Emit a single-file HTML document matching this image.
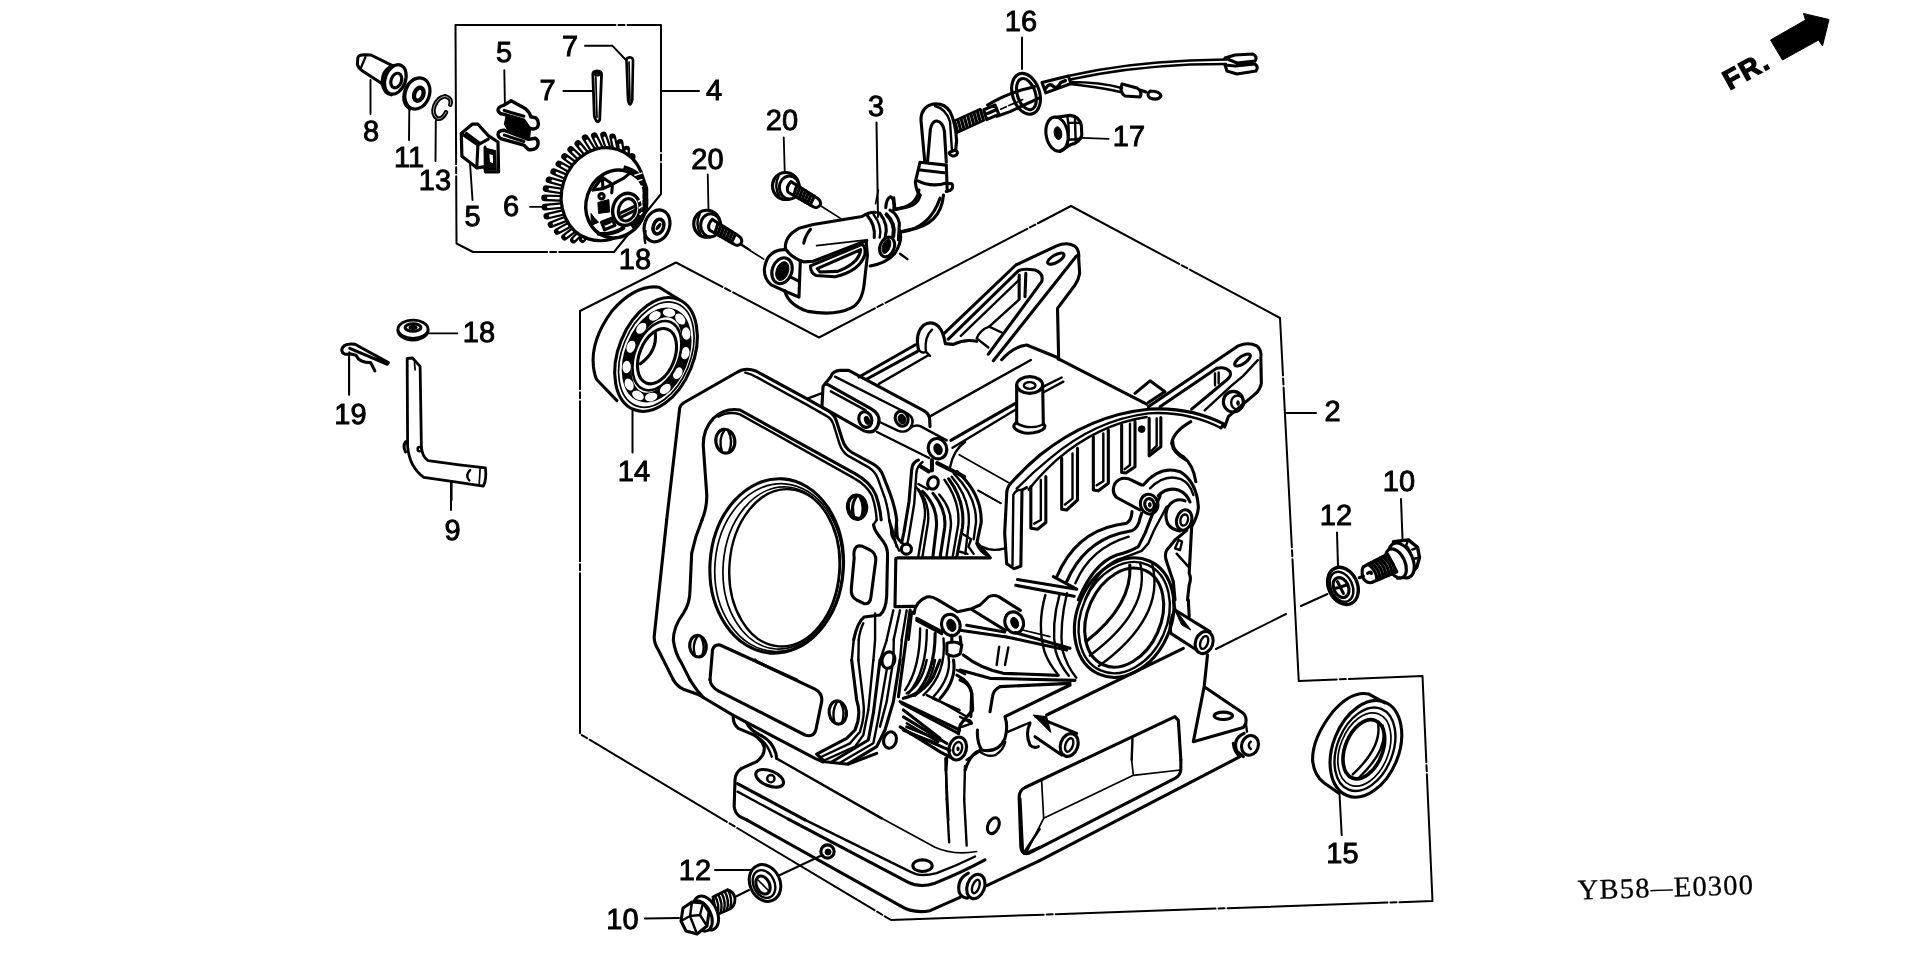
<!DOCTYPE html>
<html><head><meta charset="utf-8"><title>YB58-E0300</title>
<style>
html,body{margin:0;padding:0;background:#fff;}
body{width:1920px;height:959px;overflow:hidden;}
svg{display:block;will-change:transform;}
text{text-rendering:geometricPrecision;}
.l{fill:none;stroke:#000;stroke-width:2.4;stroke-linecap:round;stroke-linejoin:round;vector-effect:non-scaling-stroke;}
.t{fill:none;stroke:#000;stroke-width:1.7;stroke-linecap:round;stroke-linejoin:round;vector-effect:non-scaling-stroke;}
.h{fill:none;stroke:#000;stroke-width:3.1;stroke-linecap:round;stroke-linejoin:round;vector-effect:non-scaling-stroke;}
.w{fill:#fff;stroke:#000;stroke-width:2;stroke-linecap:round;stroke-linejoin:round;vector-effect:non-scaling-stroke;}
.wt{fill:#fff;stroke:#000;stroke-width:1.3;stroke-linecap:round;stroke-linejoin:round;vector-effect:non-scaling-stroke;}
.k{fill:#000;stroke:#000;stroke-width:1;stroke-linejoin:round;vector-effect:non-scaling-stroke;}
.n{font-family:"Liberation Sans",sans-serif;font-size:29px;fill:#000;stroke:#000;stroke-width:0.9;text-anchor:middle;}
</style></head><body>
<svg width="1920" height="959" viewBox="0 0 1920 959">
<rect width="1920" height="959" fill="#fff"/>
<g class="t" style="stroke-width:2" stroke-dasharray="160 3 6 3">
<path d="M580,311 L676,262.5 L819,337.5 L1071,206 L1280,318 L1298.75,681 L1422.5,676 L1432.5,901 L891,920 L580,734 Z"/>
<path d="M455.5,25 L661,25 L661,194 L614,252 L473,252 L456.5,243.5 Z"/>
</g>
<g class="t" style="stroke-width:2">
<path d="M661,91 L699,91"/>
<path d="M1285,413 L1316,413"/>
<path d="M1401,499 L1402.5,539"/>
<path d="M1337,532.5 L1338,566"/>
<path d="M1339.5,794 L1341.7,835"/>
<path d="M715,870 L751,870"/>
<path d="M645,918.5 L679,918"/>
<path d="M451,482.5 L451,510"/>
<path d="M632.5,410 L632.5,452.5"/>
<path d="M349,357 L349,394"/>
<path d="M1022,37.5 L1022,69"/>
<path d="M1327.5,594 L1301,606 M1286,614 L1216,649"/>
<path d="M780,875 L822.5,855 M736,896.5 L749,890"/>
</g>
<path class="t" style="stroke-width:2" d="M876.5,122.5 L878,217"/>

<!-- tile origin 640,360 scale 1/6 -->
<g transform="translate(640,360) scale(0.16667)">
<!-- flange outer -->
<path class="h" d="M160,959 L238,290 Q242,268 265,255 L580,75 Q632,42 695,66 L1005,235 L1130,305 Q1165,325 1177,362 L1215,480 Q1230,530 1272,555 L1400,625 Q1442,650 1457,690 L1500,800 Q1530,880 1540,959"/>
<path class="l" d="M632,76 Q670,85 700,103 L1000,268 L1118,335 Q1150,352 1161,387 L1196,500 Q1212,552 1252,577 L1375,646 Q1412,670 1427,712 L1470,830 Q1490,900 1495,959"/>
<!-- inner gasket outline -->
<path class="h" d="M372,959 Q405,880 400,800 L380,520 Q375,420 440,350 Q510,285 600,300 L1290,682 Q1385,735 1415,810 Q1440,880 1447,959"/>
<path class="l" d="M470,340 Q530,305 600,326 L1278,706 Q1362,752 1392,815 Q1415,880 1420,959"/>
<!-- bolt holes -->
<ellipse class="h" cx="512" cy="487" rx="57" ry="72" transform="rotate(-8 512 487)"/>
<path class="l" d="M505,425 Q470,470 490,545 M530,428 Q560,480 535,548"/>
<ellipse class="h" cx="1300" cy="885" rx="55" ry="72" transform="rotate(-8 1300 885)"/>
<path class="l" d="M1295,822 Q1260,870 1280,945 M1320,826 Q1350,880 1325,948"/>
</g>

<!-- tile origin 800,360 scale 1/6 -->
<g transform="translate(800,360) scale(0.16667)">
<!-- lug 1 -->
<path class="h" d="M132,275 L138,160 Q145,138 168,148 L425,292 Q492,330 468,392 Q445,448 385,425 L132,282"/>
<path class="l" d="M185,188 L395,302"/>
<ellipse class="h" cx="392" cy="357" rx="38" ry="48" transform="rotate(-20 392 357)"/>
<ellipse class="k" cx="402" cy="362" rx="15" ry="26" transform="rotate(-20 402 362)"/>
<!-- lug 2 -->
<path class="h" d="M150,142 L185,100 Q195,65 240,62 L292,62 L745,305 Q778,325 778,360 L780,400"/>
<path class="l" d="M210,100 L640,318 Q692,347 668,397 Q645,442 590,425 L478,372"/>
<ellipse class="h" cx="610" cy="352" rx="38" ry="46" transform="rotate(-20 610 352)"/>
<ellipse class="k" cx="612" cy="355" rx="22" ry="30" transform="rotate(-20 612 355)"/>
<path class="l" d="M660,408 Q690,385 722,397 L880,482"/>
<path class="l" d="M462,432 L775,588"/>
<path class="l" d="M45,232 L128,200"/>
<!-- boss 3 -->
<ellipse class="h" cx="825" cy="532" rx="55" ry="62" transform="rotate(-20 825 532)"/>
<ellipse class="k" cx="828" cy="535" rx="24" ry="34" transform="rotate(-20 828 535)"/>
<!-- rods -->
<!-- block top face -->
<path class="l" d="M785,335 L1385,0"/>
<path class="h" d="M905,482 L1290,262"/>
<path class="l" d="M915,527 L1295,297"/>
<path class="l" d="M990,492 Q920,540 900,645"/>
<path class="t" d="M955,568 L1250,735 M1070,785 L1205,860"/>
<!-- post -->
<ellipse class="h" cx="1378" cy="150" rx="78" ry="50"/>
<ellipse class="l" cx="1378" cy="153" rx="35" ry="20"/>
<path class="h" d="M1300,152 L1300,378 M1456,152 L1460,385"/>
<path class="h" d="M1300,375 Q1272,390 1290,412 Q1330,447 1400,437 Q1470,425 1470,395 L1460,382"/>
<path class="l" d="M1300,380 Q1378,422 1460,387"/>
<path class="l" d="M1460,160 L1570,105 M1465,192 L1580,130"/>
<!-- fin arcs -->
</g>

<!-- tile origin 860,200 scale 1/6 : left mount arm -->
<g transform="translate(860,200) scale(0.16667)">
<path class="h" d="M505,800 L935,390 L1180,275 Q1240,250 1285,275 Q1318,298 1312,350 L1318,440 Q1312,480 1290,510 L1185,650 L1192,955"/>
<path class="h" d="M1300,335 L800,965"/>
<path class="h" d="M530,835 L950,425 Q975,410 1050,420 Q1105,440 1090,490 L770,925"/>
<path class="l" d="M605,815 L955,478"/>
<path class="h" d="M955,450 L955,592 M995,440 L990,580"/>
<path class="l" d="M955,597 L775,760"/>
<path class="l" d="M775,760 Q720,780 700,830 L770,885 M775,760 L850,795"/>
<ellipse class="h" cx="1175" cy="352" rx="55" ry="22" transform="rotate(-30 1175 352)"/>
<!-- hook -->
<path class="h" d="M350,895 Q330,800 380,752 Q430,720 472,760 Q500,790 512,862 L560,866 Q630,832 700,848"/>
<path class="l" d="M395,910 Q385,820 432,778 M350,895 Q370,925 395,910 L420,935"/>
<path class="h" d="M850,959 Q920,880 1000,870 L1192,948"/>
</g>
<path class="h" d="M859,377 L915,345 M866,379.5 L917.5,351.3"/>
<path class="l" d="M878.8,383.9 L928.8,355"/>

<!-- tile origin 1040,300 scale 1/6 : right mount arm -->
<g transform="translate(1040,300) scale(0.16667)">
<path class="h" d="M108,352 L640,625"/>
<path class="h" d="M570,560 L660,485 L750,550 L650,615"/>
<path class="h" d="M650,640 L1190,275 Q1250,250 1300,275 Q1332,300 1325,350 L1328,500 Q1320,540 1290,565 L1130,700 L1108,762"/>
<path class="l" d="M1307,361 L1219,455 L1144,518 L988,662"/>
<path class="h" d="M720,640 L1060,410 Q1110,398 1140,430 Q1152,452 1120,480 L910,655"/>
<path class="l" d="M1050,440 L1050,512 M1072,435 L1072,500"/>
<ellipse class="h" cx="1215" cy="360" rx="55" ry="22" transform="rotate(-35 1215 360)"/>
<ellipse class="h" cx="1160" cy="610" rx="60" ry="62"/>
<ellipse class="l" cx="1185" cy="615" rx="38" ry="42"/>
<ellipse class="k" cx="1188" cy="618" rx="8" ry="14"/>
<!-- arcs -->
<path class="h" d="M-175,1100 Q-90,1005 0,930 Q300,690 650,655 Q900,640 1105,745 L1085,767"/>
<path class="l" d="M-140,1132 Q-40,1030 60,950 Q330,720 650,680 Q880,665 1085,767"/>
<path class="l" d="M-68,1138 Q0,1050 100,959 Q350,745 640,702"/>
<!-- fins -->
<circle class="k" cx="610" cy="775" r="20"/>
<path class="h" d="M905,730 Q800,790 790,860 Q800,920 875,959"/>
</g>

<!-- tile origin 800,480 scale 1/6 -->
<g transform="translate(800,480) scale(0.16667)">
<!-- bore right arcs -->
<!-- bolt hole -->
<ellipse class="h" cx="345" cy="160" rx="55" ry="70" transform="rotate(-8 345 160)"/>
<path class="l" d="M340,100 Q305,150 325,222 M368,105 Q400,160 372,225"/>
<!-- slot -->
<path class="h" d="M340,400 Q318,420 325,470 L308,650 Q303,700 340,720 L385,742 Q422,747 426,700 L455,480 Q456,440 420,420 L375,398 Q355,392 340,400 Z"/>
<!-- flange edge continuing -->
<path class="h" d="M441,268 Q445,300 470,330 L500,370 Q530,410 525,470 L520,700 Q515,780 480,810 L385,822 Q345,850 322,959"/>
<path class="l" d="M535,240 L555,300 L580,400 M580,240 L585,340 Q600,380 625,385 M460,240 L441,268"/>
<path class="l" d="M380,860 Q360,900 352,959"/>
<!-- flat face -->
<path class="h" d="M575,470 L570,760 L690,758"/>
<path class="h" d="M585,467 L1142,467"/>
<!-- shroud left bar -->
<path class="l" d="M1090,400 Q1150,432 1230,410"/>
<path class="t" d="M1068,62 L1205,140"/>
<!-- fin slots -->
<!-- bosses -->
<path class="h" d="M685,800 Q690,730 760,702 Q790,695 820,715 L945,790 L1030,772 L1080,750 L1130,702 Q1160,685 1192,700 L1322,782"/>
<path class="h" d="M700,842 L850,922 M1030,777 L1232,902"/>
<ellipse class="h" cx="905" cy="870" rx="55" ry="65" transform="rotate(-20 905 870)"/>
<ellipse class="k" cx="908" cy="872" rx="26" ry="38" transform="rotate(-20 908 872)"/>
<ellipse class="h" cx="1285" cy="855" rx="55" ry="65" transform="rotate(-20 1285 855)"/>
<ellipse class="k" cx="1288" cy="857" rx="22" ry="34" transform="rotate(-20 1288 857)"/>
<path class="h" d="M960,902 L1240,942 M1000,872 L1228,912"/>
<path class="t" d="M1335,900 L1500,940"/>
<!-- fins bottom-left -->
<path class="l" d="M560,782 L520,959 M600,782 L562,959 M640,782 L610,959 M672,790 L652,959"/>
<!-- pointed -->
<path class="h" d="M1305,597 L1660,655 L1520,580 M1295,632 L1645,697"/>
</g>
<!-- fins bundle: origin 860,460 scale 1/9.59 -->
<g transform="translate(860,460) scale(0.10428)">
<path class="h" d="M352,575 L342,700 Q345,745 400,790"/>
<path class="l" d="M280,575 Q302,680 300,700 Q300,730 330,770 L375,870"/>
<circle class="h" cx="445" cy="855" r="48"/>
<path class="h" d="M560,0 Q500,20 495,100 L470,400 L420,700 L400,790"/>
<path class="l" d="M600,20 Q545,60 540,130 L520,420 L470,720 L455,800"/>
<path class="l" d="M540,260 Q640,400 620,560 L560,920"/>
<path class="l" d="M560,280 Q672,420 652,600 L600,920"/>
<path class="h" d="M600,300 Q752,450 732,650 L700,920"/>
<path class="h" d="M700,320 Q832,480 812,650 L770,920"/>
<path class="l" d="M810,190 Q962,400 942,620 L890,920"/>
<path class="l" d="M760,330 Q890,480 870,650 L830,920"/>
<path class="l" d="M880,160 Q1062,380 1042,620 L1010,900"/>
<path class="h" d="M850,180 Q1012,400 982,650 L930,920"/>
<path class="l" d="M900,130 Q1122,350 1112,600 L1090,760"/>
<path class="h" d="M930,110 Q1172,330 1162,600 L1120,800 Q1150,880 1240,925 L1130,800"/>
<path class="h" d="M580,60 L660,110 M690,0 L690,100 M740,30 L1000,160" style="stroke-width:4"/>
<ellipse class="h" cx="700" cy="220" rx="50" ry="60" transform="rotate(20 700 220)"/>
<path class="l" d="M560,230 L650,280"/>
<path class="l" d="M985,710 L1065,760 L1040,830 L1090,900 M960,880 L1030,900"/>
</g>

<!-- tile origin 1000,440 scale 1/6 -->
<g transform="translate(1000,440) scale(0.16667)">
<path class="h" d="M850,270 L770,232 Q720,220 690,260 Q665,310 700,345 L840,420"/>
<ellipse class="h" cx="895" cy="385" rx="52" ry="60" transform="rotate(-15 895 385)"/>
<ellipse class="h" cx="897" cy="387" rx="28" ry="36" transform="rotate(-15 897 387)"/>
<ellipse class="k" cx="899" cy="389" rx="8" ry="14"/>
<path class="h" d="M860,270 Q960,150 1080,190 Q1180,250 1190,400 Q1190,450 1150,520 L1135,800 Q1150,830 1135,870 L1125,959"/>
<path class="l" d="M900,290 Q990,200 1085,235 Q1140,260 1160,330"/>
<path class="h" d="M950,335 Q1000,280 1070,300 Q1120,320 1140,372"/>
<path class="h" d="M1035,0 L1040,40 Q1060,80 1100,100 Q1160,150 1175,250"/>
<!-- right boss -->
<path class="h" d="M1005,500 Q980,430 1020,385 Q1060,345 1110,365"/>
<ellipse class="h" cx="1105" cy="480" rx="45" ry="62" transform="rotate(15 1105 480)"/>
<ellipse class="l" cx="1105" cy="480" rx="22" ry="34" transform="rotate(15 1105 480)"/>
<path class="h" d="M1005,500 Q1030,540 1080,545"/>
<!-- S band -->
<path class="h" d="M960,335 L905,470 L870,560 L830,640 Q780,670 700,690 Q560,740 470,959"/>
<path class="l" d="M1000,400 L925,540 L890,620 L850,665 Q760,700 700,720 Q590,770 510,959"/>
<path class="h" d="M340,822 Q450,560 700,510 L760,500 Q790,480 792,430"/>
<path class="h" d="M400,850 Q500,620 720,560 L790,545 Q830,530 840,470 L850,440"/>
<path class="l" d="M452,860 Q540,650 772,580"/>
<!-- inner arcs -->
<path class="h" d="M1120,542 L1050,600 L1000,662 Q985,690 1000,730 L1040,850 L1050,959"/>
<path class="l" d="M1072,600 L1050,650 L1080,660 L1092,610 Z M1060,682 L1130,760"/>
<!-- bar + slots -->
<path class="h" d="M62,262 Q38,290 40,330 L28,560 L40,742 L85,772 L125,757 L132,300 L160,285"/>
<path class="l" d="M132,300 Q95,295 80,330 L75,750"/>
</g>

<!-- bore ellipses in source coords -->
<g>
<ellipse class="h" cx="776.7" cy="566" rx="66.7" ry="87.3" transform="rotate(4 776.7 566)"/>
<ellipse class="t" cx="778.7" cy="567.6" rx="63.8" ry="84" transform="rotate(4 778.7 567.6)"/>
<ellipse class="t" cx="781.6" cy="568" rx="58.5" ry="81.2" transform="rotate(4 781.6 568)"/>
<ellipse class="l" cx="784.4" cy="567.8" rx="55" ry="78.8" transform="rotate(4 784.4 567.8)"/>
</g>
<!-- tile origin 640,520 scale 1/6 -->
<g transform="translate(640,520) scale(0.16667)">
<path class="h" d="M160,0 L85,700 Q85,740 110,780 L200,959"/>
<path class="h" d="M372,0 Q330,100 310,200 L300,420 Q300,500 260,560 Q200,640 200,720 Q210,800 250,860 L300,959"/>
<ellipse class="h" cx="348" cy="757" rx="50" ry="65" transform="rotate(-8 348 757)"/>
<path class="l" d="M343,700 Q310,750 330,815 M368,705 Q395,760 372,818"/>
<path class="h" d="M420,959 L435,780 Q445,745 480,750 L940,959"/>
</g>

<!-- tile origin 640,660 scale 1/6 -->
<g transform="translate(640,660) scale(0.16667)">
<path class="h" d="M200,119 Q225,160 260,175 L345,205 L380,225 L560,332 L1050,590 L1100,612"/>
<path class="h" d="M300,119 Q320,150 345,185 L380,225"/>
<path class="h" d="M420,119 Q425,160 470,185 L990,450 Q1040,467 1055,420 L1090,250 Q1097,200 1050,175 L700,10 L690,0"/>
<ellipse class="h" cx="1187" cy="315" rx="52" ry="70" transform="rotate(-8 1187 315)"/>
<path class="l" d="M1180,255 Q1148,310 1168,378 M1205,258 Q1235,315 1210,380"/>
<path class="h" d="M560,335 Q555,380 590,410 L660,440 Q720,460 745,520 Q752,570 700,610 L610,650 Q570,680 570,720 L565,880 Q570,920 600,940 L640,959"/>
<path class="h" d="M640,378 Q660,420 720,450 Q790,480 815,560 L820,590"/>
<path class="l" d="M715,470 Q765,500 790,580"/>
<path class="l" d="M818,590 L1450,950"/>
<path class="h" d="M585,742 L990,959"/>
<path class="l" d="M585,790 L890,955"/>
<ellipse class="h" cx="778" cy="710" rx="88" ry="45" transform="rotate(22 778 710)"/>
<circle class="l" cx="785" cy="712" r="22"/>
<!-- fin bottoms -->
<path class="h" d="M1270,0 L1300,240 Q1330,330 1290,420 L1240,470 L1060,565 L1110,610 L1250,625 L1420,560"/>
<path class="l" d="M1310,0 L1340,250 Q1352,330 1320,430 L1260,500 L1080,585"/>
<path class="l" d="M1400,0 L1370,300 L1340,450 L1290,520 L1110,600"/>
<path class="h" d="M1440,0 L1400,320 L1370,480 L1150,612"/>
<path class="l" d="M1480,60 L1430,350 L1400,500 L1200,617"/>
<path class="h" d="M1560,0 L1520,250 L1470,420 L1420,520 L1250,622"/>
<path class="l" d="M1520,0 L1480,250 L1440,400"/>
<ellipse class="h" cx="1500" cy="480" rx="38" ry="50" transform="rotate(15 1500 480)"/>
<path class="h" d="M1580,230 Q1700,200 1760,100 L1800,0"/>
<path class="l" d="M1600,200 Q1690,150 1720,0 M1640,215 Q1740,170 1770,0"/>
<path class="h" d="M1560,250 L1918,420 M1580,300 L1800,470 M1580,420 L1860,542"/>
<path class="l" d="M1600,380 L1790,492 M1760,232 L1918,300"/>
<path class="l" d="M1832,590 L1850,959"/>
</g>

<!-- ring group origin 1020,520 scale 1/5.327 -->
<g transform="translate(1020,520) scale(0.18771)">
<g transform="rotate(24 555 520)">
<ellipse class="h" cx="555" cy="520" rx="250" ry="330"/>
<ellipse class="l" cx="555" cy="520" rx="228" ry="308"/>
<ellipse class="h" cx="555" cy="520" rx="195" ry="275"/>
</g>
<path class="h" d="M585,240 Q600,450 355,645"/>
<path class="l" d="M640,228 Q700,480 372,722"/>
<path class="l" d="M705,238 Q775,520 420,778"/>
<path class="l" d="M135,400 Q90,560 130,700 Q150,760 200,820"/>
<path class="l" d="M210,400 Q165,560 190,700 Q210,770 260,830"/>
<path class="l" d="M250,390 Q210,560 225,690 Q250,780 300,840"/>
</g>
<!-- tile origin 960,600 scale 1/6 -->
<g transform="translate(960,600) scale(0.16667)">
<path class="h" d="M330,195 L660,290 M280,222 L640,300"/>
<path class="h" d="M20,330 Q120,410 260,440 L590,452 M0,420 L180,470 L690,482 M240,520 L660,500"/>
<path class="l" d="M235,280 L220,390 M290,285 L270,390"/>
<path class="h" d="M240,520 Q200,540 195,580 L180,670 M0,480 Q60,500 70,560 L65,700"/>
<path class="h" d="M660,510 L270,700 Q290,760 270,830 Q230,920 130,900 Q100,850 105,780"/>
<path class="l" d="M290,790 L420,735 M130,900 L40,959 M0,700 L70,740"/>
<path class="h" d="M520,690 L1340,290"/>
<!-- boss C -->
<path class="h" d="M455,700 L700,800 M450,820 L610,930 M420,740 Q390,800 420,870 Q440,892 470,880"/>
<path class="k" d="M440,690 L545,795 L520,700 Z"/>
<ellipse class="h" cx="655" cy="870" rx="52" ry="70" transform="rotate(20 655 870)"/>
<ellipse class="l" cx="655" cy="870" rx="22" ry="42" transform="rotate(20 655 870)"/>
<!-- boss D -->
<path class="h" d="M1290,60 L1500,190 M1265,200 L1420,300 M1290,60 Q1250,130 1265,200"/>
<path class="k" d="M1280,40 L1385,180 L1330,150 Z"/>
<ellipse class="h" cx="1465" cy="255" rx="52" ry="68" transform="rotate(20 1465 255)"/>
<ellipse class="l" cx="1465" cy="255" rx="22" ry="40" transform="rotate(20 1465 255)"/>
<path class="h" d="M1280,0 L1290,60 M1370,0 L1375,100"/>
<!-- foot -->
<path class="h" d="M1485,330 L1465,520 L1400,850 L1700,765 L1715,740 Q1722,700 1700,680 L1465,520"/>
<ellipse class="h" cx="1580" cy="695" rx="55" ry="22"/>
<path class="l" d="M1715,740 L1722,790"/>
<ellipse class="h" cx="1740" cy="872" rx="50" ry="60" transform="rotate(20 1740 872)"/>
<path class="h" d="M1705,800 Q1635,830 1660,905 L1700,940"/>
<path class="l" d="M1745,850 Q1720,870 1745,895"/>
<!-- window -->
<path class="h" d="M740,959 L1290,700 L1310,722 L1325,959"/>
<path class="l" d="M1035,830 L1030,959"/>
</g>

<!-- tile origin 720,799 scale 1/6 -->
<g transform="translate(720,799) scale(0.16667)">
<path class="h" d="M160,125 L1080,640 Q1160,690 1260,670 L1440,590"/>
<path class="h" d="M410,121 L1130,500 Q1200,535 1290,505 Q1450,440 1590,365"/>
<path class="l" d="M510,125 L1150,440 Q1200,470 1300,445 Q1420,400 1530,345"/>
<path class="t" d="M970,116 L1290,290 Q1400,340 1540,315"/>
<circle class="h" cx="645" cy="315" r="40"/>
<circle class="k" cx="648" cy="318" r="18"/>
<ellipse class="h" cx="1215" cy="400" rx="58" ry="35"/>
<ellipse class="h" cx="1535" cy="525" rx="52" ry="75" transform="rotate(20 1535 525)"/>
<ellipse class="l" cx="1535" cy="525" rx="20" ry="42" transform="rotate(20 1535 525)"/>
<path class="h" d="M1490,445 Q1420,480 1435,560 Q1450,592 1485,595"/>
<path class="h" d="M1600,520 L1918,370"/>
<path class="l" d="M1360,0 L1375,260 M1465,0 L1480,280"/>
<ellipse class="h" cx="1640" cy="160" rx="32" ry="50" transform="rotate(25 1640 160)"/>
<path class="h" d="M1800,0 L1815,310 Q1820,332 1840,325 L1918,290"/>
<path class="l" d="M1830,312 L1918,180"/>
</g>

<!-- tile origin 1000,740 scale 1/6 -->
<g transform="translate(1000,740) scale(0.16667)">
<path class="h" d="M500,119 L150,285 Q112,305 115,350 L125,640 Q130,692 172,680 L1050,230 Q1087,210 1085,170 L1085,119"/>
<path class="t" d="M250,250 L262,470 L800,212 L1082,180 M790,119 L800,212 M160,672 L262,470"/>
<path class="h" d="M238,724 L1440,100 Q1405,70 1400,20"/>
</g>

<!-- mid tile origin 820,610 scale 1/5.992 -->
<g transform="translate(820,610) scale(0.16689)">
<path class="l" d="M202,180 L190,300 M232,180 L230,300 M400,180 L360,300 M442,180 L440,300 M490,180 L480,300 M330,20 L330,180 L320,300"/>
<ellipse class="h" cx="410" cy="300" rx="38" ry="50" transform="rotate(15 410 300)"/>
<path class="h" d="M540,0 L470,520 M580,50 L730,130"/>
<path class="l" d="M600,110 Q600,350 510,480 M640,120 Q640,370 530,500 M740,170 Q760,380 620,510 M770,280 Q790,400 680,520"/>
<path class="h" d="M690,140 Q690,380 570,510 M800,300 Q820,420 720,530"/>
<path class="h" d="M760,200 L760,262 Q800,292 840,262 L850,210 Q810,180 760,200 M790,150 L790,195 M840,160 L845,205"/>
<path class="h" d="M490,560 L830,740 M500,640 L760,800 M480,700 L720,850 L780,882"/>
<path class="h" d="M520,700 L720,780 M540,740 L700,800"/>
<path class="l" d="M690,530 L880,640 M640,510 L700,540"/>
<path class="h" d="M820,390 Q900,430 910,500 L915,600 L880,640 Q860,660 840,690 L830,740"/>
<path class="l" d="M870,660 Q900,650 910,680 L850,700 M820,360 L870,385"/>
<ellipse class="h" cx="825" cy="830" rx="52" ry="70" transform="rotate(15 825 830)"/>
<ellipse class="l" cx="825" cy="830" rx="26" ry="40" transform="rotate(15 825 830)"/>
<ellipse class="k" cx="827" cy="832" rx="7" ry="12"/>
<path class="h" d="M760,882 L755,959 M870,959 Q900,860 960,840"/>
<path class="l" d="M960,850 Q1000,882 1050,870 Q1100,840 1110,790"/>
</g>
<path class="l" d="M946,770 L946.7,799 M965,766 L964.2,799"/>

<!-- shroud slots: origin 1000,380 scale 1/6 -->
<g transform="translate(1000,380) scale(0.16667)">
<path class="h" d="M185,640 L185,890 L225,895 L275,855 L275,580"/>
<path class="l" d="M245,600 L245,840 L205,862"/>
<path class="h" d="M370,470 L370,775 L400,780 L465,720 L465,410"/>
<path class="l" d="M435,440 L435,712 L390,747"/>
<path class="h" d="M560,340 L560,660 L590,665 L650,620 L650,300"/>
<path class="l" d="M620,320 L620,608 L580,632"/>
<path class="h" d="M730,270 L730,555 L755,558 L810,520 L810,250"/>
<path class="l" d="M780,262 L780,510 L748,535"/>
<path class="h" d="M895,230 L895,455 L965,400 L965,225"/>
<path class="l" d="M940,230 L940,395 L908,425"/>
</g>

<!-- bearing 14: origin 570,270 scale 1/6.394 -->
<g transform="translate(570,270) scale(0.1564)">
<path class="h" d="M700,190 L570,110 Q420,90 270,260 Q130,450 150,620 Q160,690 175,705 L300,835"/>
<g transform="rotate(22 550 540)">
<ellipse class="h" cx="550" cy="540" rx="240" ry="380"/>
<ellipse class="t" cx="552" cy="540" rx="218" ry="352"/>
<ellipse cx="555" cy="542" rx="172" ry="285" fill="none" stroke="#000" stroke-width="62"/>
<ellipse cx="724" cy="599" rx="40" ry="27" fill="#fff" transform="rotate(97 724 599)"/>
<ellipse cx="688" cy="722" rx="40" ry="27" fill="#fff" transform="rotate(116 688 722)"/>
<ellipse cx="623" cy="804" rx="40" ry="27" fill="#fff" transform="rotate(145 623 804)"/>
<ellipse cx="541" cy="826" rx="40" ry="27" fill="#fff" transform="rotate(-173 541 826)"/>
<ellipse cx="463" cy="783" rx="40" ry="27" fill="#fff" transform="rotate(-134 463 783)"/>
<ellipse cx="406" cy="685" rx="40" ry="27" fill="#fff" transform="rotate(-109 406 685)"/>
<ellipse cx="383" cy="554" rx="40" ry="27" fill="#fff" transform="rotate(-91 383 554)"/>
<ellipse cx="400" cy="420" rx="40" ry="27" fill="#fff" transform="rotate(-74 400 420)"/>
<ellipse cx="451" cy="314" rx="40" ry="27" fill="#fff" transform="rotate(-51 451 314)"/>
<ellipse cx="527" cy="261" rx="40" ry="27" fill="#fff" transform="rotate(-15 527 261)"/>
<ellipse cx="609" cy="272" rx="40" ry="27" fill="#fff" transform="rotate(29 609 272)"/>
<ellipse cx="679" cy="344" rx="40" ry="27" fill="#fff" transform="rotate(60 679 344)"/>
<ellipse cx="720" cy="462" rx="40" ry="27" fill="#fff" transform="rotate(80 720 462)"/>
<ellipse class="w" cx="558" cy="545" rx="140" ry="232" style="stroke-width:2.6"/>
<ellipse class="h" cx="560" cy="548" rx="112" ry="185"/>
</g>
<path class="h" d="M545,400 Q560,520 450,600"/>
</g>
<!-- seal 15: origin 1290,670 scale 1/6.85 -->
<g transform="translate(1290,670) scale(0.14599)">
<path class="h" d="M650,225 L540,165 Q420,140 290,290 Q150,470 155,620 Q165,720 230,770 L335,845"/>
<g transform="rotate(22 520 540)">
<ellipse class="h" cx="520" cy="540" rx="225" ry="345"/>
<ellipse class="l" cx="515" cy="545" rx="190" ry="298"/>
<ellipse class="t" cx="512" cy="548" rx="165" ry="262"/>
<ellipse class="h" cx="508" cy="548" rx="128" ry="212" style="stroke-width:3.6"/>
</g>
<path class="l" d="M600,350 Q640,520 430,715 M635,380 Q680,540 470,740"/>
</g>

<!-- breather 3: origin 740,190 scale 1/7.375 -->
<g transform="translate(740,190) scale(0.13559)">
<path class="h" d="M335,440 Q325,340 435,283 L540,255 L900,195 Q955,160 1000,165"/>
<path class="h" d="M520,290 Q480,340 470,392"/>
<path class="h" d="M340,440 Q380,500 470,530 L540,525 L935,372"/>
<path class="t" d="M565,410 L920,370"/>
<path class="h" d="M330,745 Q360,850 500,895 Q700,930 820,870 Q900,830 915,700 L940,480 L930,380"/>
<path class="h" d="M445,520 L435,790 L330,745"/>
<path class="h" d="M520,560 L900,400 Q930,420 920,480 Q880,600 700,640 L560,630 Q520,610 520,560 Z"/>
<path class="h" d="M570,580 L890,440 Q880,540 720,600 L590,605 Z"/>
<path class="h" d="M330,440 Q200,440 180,580 Q175,650 230,700 L330,745"/>
<ellipse class="h" cx="310" cy="595" rx="72" ry="98" transform="rotate(20 310 595)"/>
<ellipse class="k" cx="312" cy="598" rx="45" ry="72" transform="rotate(20 312 598)"/>
<path class="h" d="M370,640 L430,670"/>
<path class="h" d="M960,560 Q1080,540 1140,470 Q1200,380 1180,300"/>
<ellipse class="h" cx="1085" cy="420" rx="52" ry="75" transform="rotate(20 1085 420)"/>
<ellipse class="k" cx="1080" cy="415" rx="28" ry="55" transform="rotate(20 1080 415)"/>
<path class="l" d="M1180,470 L1235,510"/>
<path class="h" d="M940,190 Q1000,260 990,350 M1030,170 Q1100,260 1070,350"/>
<path class="l" d="M985,180 Q1050,260 1030,350"/>
<path class="h" d="M1080,180 Q1150,250 1130,340" style="stroke-width:4"/>
<path class="h" d="M1075,130 Q1080,60 1110,50 Q1140,60 1135,140"/>
<path class="h" d="M1140,140 Q1300,130 1320,0 M1190,310 Q1400,280 1475,60"/>
<path class="t" d="M1000,100 L1020,0 M600,120 L750,215 M0,400 L175,510"/>
</g>

<!-- hose/tube: origin 890,60 scale 1/5.329 -->
<g transform="translate(890,60) scale(0.18765)">
<path class="h" d="M185,540 L165,320 Q165,250 230,235 Q290,228 320,275 Q350,335 355,430 L350,480"/>
<path class="h" d="M200,540 L215,370 Q225,322 250,325 Q282,330 290,380 L300,545"/>
<path class="l" d="M240,245 Q300,260 320,330 L330,480"/>
<path class="h" d="M315,495 Q330,522 355,505 Q365,490 350,480 L320,490"/>
<path class="h" d="M160,545 L300,560 M150,585 L300,602 M140,640 Q220,682 300,655 L330,660 Q342,680 320,695 L300,700 M160,545 L135,650 Q140,700 160,720 M300,560 L305,700"/>
<path class="h" d="M160,720 Q150,780 60,790 L20,800 M285,720 Q270,880 100,905 L60,915"/>
<path class="h" d="M20,735 L25,790 M0,800 Q40,820 50,870 L45,959"/>
<path class="l" d="M340,325 L480,262 M355,388 L500,322"/>
<path class="h" d="M345,328 L360,382"/>
<path class="h" d="M362,320 L377,374"/>
<path class="h" d="M379,312 L394,366"/>
<path class="h" d="M396,304 L411,358"/>
<path class="h" d="M414,296 L428,350"/>
<path class="h" d="M431,289 L446,342"/>
<path class="h" d="M448,281 L463,334"/>
<path class="h" d="M465,273 L480,326"/>
<path class="h" d="M482,265 L497,318"/>
<path class="h" d="M500,265 L560,240 L580,290 L515,318 Z M520,285 L560,268"/>
<path class="h" d="M520,240 Q600,190 700,160 L770,142 M570,300 L640,275 L800,200"/>
<path class="t" stroke-dasharray="6 3" d="M590,262 L720,205"/>
<ellipse class="h" cx="725" cy="180" rx="72" ry="112" transform="rotate(-18 725 180)"/>
<ellipse class="h" cx="727" cy="182" rx="48" ry="86" transform="rotate(-18 727 182)"/>
<path class="h" d="M810,120 L950,85 L965,125 L830,175 Z"/>
<path class="h" d="M830,150 Q850,120 870,140 Q890,160 910,120 L935,110" style="stroke-width:3.4"/>
</g>
<path class="l" d="M1068,76 Q1125,63 1190,60.5 L1226,59.5 M1070,79.5 Q1125,67.5 1190,64.5 L1226,64"/>
<path class="l" d="M1070,82 Q1100,82 1122,88 M1070,84 Q1105,88 1120,92"/>
<path class="h" d="M1122,84 L1137,88 Q1143,92 1140,97 L1125,96 Q1119,92 1122,84 Z M1140,90 L1146,92 M1150,91 Q1160,91 1161,96 Q1158,101 1150,98 Q1146,95 1150,91 Z"/>
<path class="h" d="M1225,58 L1235,55 L1253,54 Q1258,57 1255,61 L1237,63 Z M1225,65 L1235,66 L1255,64 Q1259,67 1256,71 L1237,74 L1227,71 Z"/>
<g transform="translate(890,60) scale(0.18765)">
<path class="h" d="M885,305 L960,295 Q1010,300 1020,350 L1022,400 Q1012,440 965,450 L905,487"/>
<ellipse class="h" cx="890" cy="395" rx="58" ry="92" transform="rotate(-10 890 395)"/>
<ellipse class="k" cx="895" cy="390" rx="20" ry="34" transform="rotate(-10 895 390)"/>
<path class="l" d="M945,300 Q960,380 945,455 M985,300 L990,442 M950,335 L1018,335 M952,425 L1015,420"/>
<path class="t" style="stroke-width:1.8" d="M1022,415 L1165,420"/>
</g>
<!-- bolts 20: origin 680,130 scale 1/8 -->
<g transform="translate(680,130) scale(0.125)">
<g transform="translate(0,0)">
<ellipse class="w" cx="215" cy="750" rx="105" ry="108" style="stroke-width:3.2"/>
<path class="l" d="M158,672 Q118,750 165,835"/>
<ellipse class="w" cx="245" cy="762" rx="80" ry="92" style="stroke-width:3"/>
<path class="w" style="stroke-width:3" d="M258,715 L470,848 Q505,875 490,905 Q465,935 435,915 L235,800 Q215,760 258,715 Z"/>
<path class="h" style="stroke-width:3.2" d="M305,744 L279,825"/>
<path class="h" style="stroke-width:3.2" d="M328,759 L301,838"/>
<path class="h" style="stroke-width:3.2" d="M351,774 L323,851"/>
<path class="h" style="stroke-width:3.2" d="M375,788 L345,863"/>
<path class="h" style="stroke-width:3.2" d="M398,803 L367,876"/>
<path class="h" style="stroke-width:3.2" d="M421,817 L389,889"/>
<path class="h" style="stroke-width:3.2" d="M445,832 L411,901"/>
</g>
<g transform="translate(630,-302)">
<ellipse class="w" cx="215" cy="750" rx="105" ry="108" style="stroke-width:3.2"/>
<path class="l" d="M158,672 Q118,750 165,835"/>
<ellipse class="w" cx="245" cy="762" rx="80" ry="92" style="stroke-width:3"/>
<path class="w" style="stroke-width:3" d="M258,715 L470,848 Q505,875 490,905 Q465,935 435,915 L235,800 Q215,760 258,715 Z"/>
<path class="h" style="stroke-width:3.2" d="M305,744 L279,825"/>
<path class="h" style="stroke-width:3.2" d="M328,759 L301,838"/>
<path class="h" style="stroke-width:3.2" d="M351,774 L323,851"/>
<path class="h" style="stroke-width:3.2" d="M375,788 L345,863"/>
<path class="h" style="stroke-width:3.2" d="M398,803 L367,876"/>
<path class="h" style="stroke-width:3.2" d="M421,817 L389,889"/>
<path class="h" style="stroke-width:3.2" d="M445,832 L411,901"/>
</g>
<path class="t" style="stroke-width:1.8" d="M222,355 L228,640 M830,60 L838,340"/>
<path class="t" d="M495,915 L560,959"/>
</g>
<!-- gear 6: origin 530,120 scale 1/6.85 -->
<g transform="translate(530,120) scale(0.14599)">
<path d="M690,320 L700,250" stroke="#000" stroke-width="46" stroke-linecap="round" fill="none"/>
<path d="M661,285 L662,199" stroke="#000" stroke-width="46" stroke-linecap="round" fill="none"/>
<path d="M630,254 L617,153" stroke="#000" stroke-width="46" stroke-linecap="round" fill="none"/>
<path d="M591,231 L566,115" stroke="#000" stroke-width="46" stroke-linecap="round" fill="none"/>
<path d="M547,226 L504,103" stroke="#000" stroke-width="46" stroke-linecap="round" fill="none"/>
<path d="M504,239 L441,108" stroke="#000" stroke-width="46" stroke-linecap="round" fill="none"/>
<path d="M463,255 L378,121" stroke="#000" stroke-width="46" stroke-linecap="round" fill="none"/>
<path d="M426,280 L328,161" stroke="#000" stroke-width="46" stroke-linecap="round" fill="none"/>
<path d="M391,309 L279,202" stroke="#000" stroke-width="46" stroke-linecap="round" fill="none"/>
<path d="M359,341 L237,250" stroke="#000" stroke-width="46" stroke-linecap="round" fill="none"/>
<path d="M330,375 L198,301" stroke="#000" stroke-width="46" stroke-linecap="round" fill="none"/>
<path d="M305,412 L162,354" stroke="#000" stroke-width="46" stroke-linecap="round" fill="none"/>
<path d="M286,453 L130,410" stroke="#000" stroke-width="46" stroke-linecap="round" fill="none"/>
<path d="M271,495 L110,470" stroke="#000" stroke-width="46" stroke-linecap="round" fill="none"/>
<path d="M259,538 L100,533" stroke="#000" stroke-width="46" stroke-linecap="round" fill="none"/>
<path d="M252,582 L102,597" stroke="#000" stroke-width="46" stroke-linecap="round" fill="none"/>
<path d="M254,627 L115,659" stroke="#000" stroke-width="46" stroke-linecap="round" fill="none"/>
<path d="M264,671 L144,716" stroke="#000" stroke-width="46" stroke-linecap="round" fill="none"/>
<path d="M282,712 L187,763" stroke="#000" stroke-width="46" stroke-linecap="round" fill="none"/>
<path d="M310,747 L237,802" stroke="#000" stroke-width="46" stroke-linecap="round" fill="none"/>
<path d="M344,775 L297,822" stroke="#000" stroke-width="46" stroke-linecap="round" fill="none"/>
<path d="M385,790 L359,818" stroke="#000" stroke-width="46" stroke-linecap="round" fill="none"/>
<path d="M430,790 L420,800" stroke="#000" stroke-width="46" stroke-linecap="round" fill="none"/>
<path d="M692,302 L698,260" stroke="#fff" stroke-width="15" stroke-linecap="round" fill="none"/>
<path d="M661,264 L661,212" stroke="#fff" stroke-width="15" stroke-linecap="round" fill="none"/>
<path d="M627,229 L619,168" stroke="#fff" stroke-width="15" stroke-linecap="round" fill="none"/>
<path d="M585,202 L570,132" stroke="#fff" stroke-width="15" stroke-linecap="round" fill="none"/>
<path d="M536,195 L510,121" stroke="#fff" stroke-width="15" stroke-linecap="round" fill="none"/>
<path d="M489,206 L450,127" stroke="#fff" stroke-width="15" stroke-linecap="round" fill="none"/>
<path d="M442,222 L391,141" stroke="#fff" stroke-width="15" stroke-linecap="round" fill="none"/>
<path d="M401,250 L343,179" stroke="#fff" stroke-width="15" stroke-linecap="round" fill="none"/>
<path d="M363,282 L296,218" stroke="#fff" stroke-width="15" stroke-linecap="round" fill="none"/>
<path d="M329,318 L255,264" stroke="#fff" stroke-width="15" stroke-linecap="round" fill="none"/>
<path d="M297,356 L218,312" stroke="#fff" stroke-width="15" stroke-linecap="round" fill="none"/>
<path d="M269,398 L183,363" stroke="#fff" stroke-width="15" stroke-linecap="round" fill="none"/>
<path d="M247,442 L154,416" stroke="#fff" stroke-width="15" stroke-linecap="round" fill="none"/>
<path d="M231,489 L134,474" stroke="#fff" stroke-width="15" stroke-linecap="round" fill="none"/>
<path d="M219,537 L124,534" stroke="#fff" stroke-width="15" stroke-linecap="round" fill="none"/>
<path d="M215,586 L124,595" stroke="#fff" stroke-width="15" stroke-linecap="round" fill="none"/>
<path d="M220,635 L136,655" stroke="#fff" stroke-width="15" stroke-linecap="round" fill="none"/>
<path d="M234,682 L162,709" stroke="#fff" stroke-width="15" stroke-linecap="round" fill="none"/>
<path d="M258,725 L201,755" stroke="#fff" stroke-width="15" stroke-linecap="round" fill="none"/>
<path d="M291,761 L248,794" stroke="#fff" stroke-width="15" stroke-linecap="round" fill="none"/>
<path d="M333,787 L304,815" stroke="#fff" stroke-width="15" stroke-linecap="round" fill="none"/>
<path d="M378,797 L363,814" stroke="#fff" stroke-width="15" stroke-linecap="round" fill="none"/>
<path d="M428,792 L422,798" stroke="#fff" stroke-width="15" stroke-linecap="round" fill="none"/>
<ellipse class="w" cx="500" cy="508" rx="282" ry="322" transform="rotate(18 500 508)" style="stroke-width:3.2"/>
<ellipse class="w" cx="590" cy="575" rx="205" ry="235" transform="rotate(18 590 575)" style="stroke-width:3.4"/>
<path class="h" d="M430,480 L495,392 L565,440 L640,400 L700,352 M495,392 L500,470 L565,440 L560,500 M430,480 L500,470"/>
<circle class="h" cx="490" cy="522" r="18"/>
<path class="k" d="M465,565 L540,545 L545,630 L470,640 Z M418,640 L420,722 L470,700 L440,670 Z"/>
<ellipse class="w" cx="660" cy="612" rx="92" ry="112" transform="rotate(18 660 612)" style="stroke-width:3.4"/>
<ellipse class="h" cx="665" cy="615" rx="58" ry="78" transform="rotate(18 665 615)"/>
<path class="h" d="M615,640 L720,590 M625,665 L715,620"/>
<path class="h" d="M490,700 L560,672 L582,722 L510,752 Z M515,712 L550,698"/>
<path class="h" d="M470,780 Q560,790 640,740" style="stroke-width:4"/>
<path d="M640,330 Q760,360 790,470 L790,600 Q760,700 700,740" fill="none" stroke="#000" stroke-width="40"/>
<path d="M715,380 L770,362" stroke="#fff" stroke-width="10" fill="none"/>
<path d="M721,425 L770,407" stroke="#fff" stroke-width="10" fill="none"/>
<path d="M727,470 L770,452" stroke="#fff" stroke-width="10" fill="none"/>
<path d="M733,515 L770,497" stroke="#fff" stroke-width="10" fill="none"/>
<path d="M739,560 L770,542" stroke="#fff" stroke-width="10" fill="none"/>
<path d="M745,605 L770,587" stroke="#fff" stroke-width="10" fill="none"/>
<path d="M751,650 L770,632" stroke="#fff" stroke-width="10" fill="none"/>
<ellipse class="w" cx="870" cy="725" rx="85" ry="112" transform="rotate(20 870 725)" style="stroke-width:3.2"/>
<ellipse class="h" cx="880" cy="730" rx="35" ry="52" transform="rotate(20 880 730)" style="stroke-width:3.6"/>
<ellipse class="k" cx="880" cy="730" rx="10" ry="26" transform="rotate(35 880 730)"/>
<path class="l" d="M792,762 Q778,800 790,842"/>
<path class="t" style="stroke-width:1.8" d="M0,595 L100,595"/>
</g>
<!-- parts 8, 11, 13: origin 340,40 scale 1/10.657 -->
<g transform="translate(340,40) scale(0.093834)">
<path class="w" style="stroke-width:3" d="M190,190 Q200,158 260,158 L330,160 L575,282 L470,480 L240,330 Q195,300 185,260 Z"/>
<path class="l" d="M270,185 L225,292"/>
<path class="w" style="stroke-width:3" d="M565,270 Q440,320 450,470 Q470,570 545,585 Z"/>
<ellipse class="w" style="stroke-width:3.2" cx="590" cy="420" rx="108" ry="162" transform="rotate(20 590 420)"/>
<ellipse class="h" style="stroke-width:3.2" cx="600" cy="432" rx="55" ry="80" transform="rotate(20 600 432)"/>
<path class="w" style="stroke-width:3" d="M790,415 Q670,490 680,640 Q690,705 745,735 Z"/>
<ellipse class="w" style="stroke-width:3.2" cx="825" cy="570" rx="128" ry="170" transform="rotate(20 825 570)"/>
<ellipse cx="840" cy="578" rx="48" ry="72" transform="rotate(20 840 578)" fill="#fff" stroke="#000" stroke-width="46"/>
<path d="M1175,690 Q1200,625 1125,600 Q1045,605 1005,705 Q975,795 1040,840 Q1095,845 1130,770" fill="none" stroke="#000" stroke-width="48" stroke-linecap="round"/>
<path d="M1175,690 Q1200,625 1125,600 Q1045,605 1005,705 Q975,795 1040,840 Q1095,845 1130,770" fill="none" stroke="#fff" stroke-width="7" stroke-linecap="round"/>
</g>
<g class="t" style="stroke-width:1.9">
<path d="M370.5,80 L370.5,114 M409.3,109 L409,140 M435.8,121 L435.5,161"/>
</g>

<!-- parts 5,7: origin 455,60 scale 1/8.72 -->
<g transform="translate(455,60) scale(0.11468)">
<path class="k" d="M450,470 L630,520 L660,600 L650,690 L470,630 L430,560 Z"/>
<path class="w" style="stroke-width:3.4" d="M375,440 Q375,405 425,395 L490,355 L615,425 Q655,460 660,495 L705,505 Q740,535 720,585 Q690,615 645,590 L600,525 L420,472 Q385,470 375,440 Z"/>
<path class="w" style="stroke-width:3.4" d="M375,650 Q375,615 425,612 L610,682 L640,692 L700,682 Q735,700 720,750 Q700,790 640,780 L600,742 L420,692 Q380,685 375,650 Z"/>
<path class="h" d="M430,440 L600,490 M430,655 L600,710"/>
<!-- lower weight -->
<path class="w" style="stroke-width:3.2" d="M55,640 L150,560 L200,560 L290,660 L375,715 L380,975 L265,975 L262,930 L190,940 L60,840 Z"/>
<path class="h" d="M55,640 L200,740 L190,940 M200,740 L290,690 M100,640 L215,725 M262,760 L265,960"/>
<path class="k" d="M270,770 L355,790 L360,960 L275,960 Z"/>
<path d="M300,820 L330,830 L332,900 L305,890 Z" fill="#fff"/>
<!-- pin 7 lower -->
<path class="w" style="stroke-width:2.8" d="M1202,125 Q1202,98 1240,96 Q1278,98 1278,125 L1262,520 Q1240,570 1215,490 Z"/>
<path class="t" d="M1228,150 L1238,500"/>
<ellipse class="l" cx="1240" cy="122" rx="18" ry="12"/>
<path class="t" style="stroke-width:1.9" d="M945,270 L1200,270 M430,90 L435,370"/>
</g>

<path class="w" style="stroke-width:2.6" d="M626.5,60.5 Q626.5,57.5 629.8,57.3 Q633,57.5 633,60.5 L632.3,100 Q630,109 628,100 Z"/>
<path class="t" d="M629,62 L630,101"/>
<path class="t" style="stroke-width:1.9" d="M585,45.8 L612.5,45.8 L626,60 M470,163 L472.5,200"/>

<!-- parts 18,19,9: origin 330,300 scale 1/4.794 -->
<g transform="translate(330,300) scale(0.2086)">
<path class="h" d="M326,145 Q330,185 398,192 Q465,185 470,145"/>
<ellipse class="w" style="stroke-width:2.8" cx="398" cy="140" rx="72" ry="44"/>
<ellipse class="h" cx="398" cy="132" rx="38" ry="18"/>
<ellipse class="l" cx="398" cy="132" rx="16" ry="6"/>
<path class="t" style="stroke-width:1.9" d="M475,160 L610,160 M92,250 L92,455 M583,875 L583,959"/>
<path class="h" style="stroke-width:3" d="M280,300 L120,212 Q62,205 56,240 Q62,268 95,258 M95,232 L275,308"/>
<path class="h" d="M95,258 L125,265 Q140,300 195,300 L215,340"/>
<path class="w" style="stroke-width:2.8" d="M370,280 L395,278 L432,318 L438,700 Q440,750 470,770 L620,790 L745,805 Q752,860 735,892 L600,872 L450,850 Q380,800 372,700 Z"/>
<path class="t" d="M405,300 L408,335 M720,802 L715,888"/>
<path class="h" d="M362,680 Q348,700 362,728"/>
<circle class="l" cx="430" cy="715" r="10"/>
<path class="l" d="M672,815 Q645,840 668,865"/>
</g>

<!-- washer12/bolt10 right: origin 1310,530 scale 1/12 -->
<g transform="translate(1310,530) scale(0.08345)">
<ellipse class="w" style="stroke-width:3.4" cx="395" cy="670" rx="172" ry="232" transform="rotate(-25 395 670)"/>
<ellipse class="l" cx="378" cy="680" rx="130" ry="188" transform="rotate(-25 378 680)"/>
<ellipse class="h" style="stroke-width:3.2" cx="372" cy="690" rx="88" ry="125" transform="rotate(-25 372 690)"/>
<path class="h" d="M330,620 L400,760 M300,700 L440,660"/>
<path class="w" style="stroke-width:3.4" d="M1000,140 L1180,118 L1290,210 L1312,330 L1280,445 L1180,560 L1050,575 Z"/>
<path class="l" d="M1180,118 L1150,185 M1290,210 L1225,235 M1312,330 L1250,345 M1280,445 L1225,440 M1150,185 Q1260,300 1200,520"/>
<ellipse class="w" style="stroke-width:3.2" cx="1095" cy="365" rx="135" ry="222" transform="rotate(-25 1095 365)"/>
<ellipse class="w" style="stroke-width:3.2" cx="1030" cy="400" rx="108" ry="185" transform="rotate(-25 1030 400)"/>
<path class="w" style="stroke-width:3.2" d="M640,440 L930,290 L1040,500 L740,628 Q660,640 630,560 Q615,480 640,440 Z"/>
<path class="h" d="M698,410 Q809,496 800,602"/>
<path class="h" d="M733,392 Q844,480 836,587"/>
<path class="h" d="M768,374 Q880,463 872,572"/>
<path class="h" d="M802,356 Q915,446 908,556"/>
<path class="h" d="M837,338 Q951,429 944,541"/>
<path class="h" d="M872,320 Q986,413 980,526"/>
<path class="h" d="M907,302 Q1021,396 1016,510"/>
<path class="h" d="M690,520 Q740,490 735,520 M590,572 L640,552"/>
</g>
<!-- washer12/bolt10 lower-left (source coords) -->
<g>
<ellipse class="w" style="stroke-width:3" cx="765" cy="883" rx="15" ry="19" transform="rotate(-25 765 883)"/>
<ellipse class="l" cx="764" cy="884" rx="10.5" ry="14.5" transform="rotate(-25 764 884)"/>
<ellipse class="h" cx="763" cy="885" rx="6.5" ry="9.5" transform="rotate(-25 763 885)"/>
<path class="t" d="M758,880 L768,890"/>
<path class="w" style="stroke-width:2.8" d="M713,897 L727,890 Q734,891 735,899 Q735,906 730,909 L716,915 Z"/>
<path class="l" d="M715.0,896.0 Q720.0,905.0 717.5,914.0"/>
<path class="l" d="M718.2,894.4 Q723.2,903.4 720.7,912.4"/>
<path class="l" d="M721.4,892.8 Q726.4,901.8 723.9,910.8"/>
<path class="l" d="M724.6,891.2 Q729.6,900.2 727.1,909.2"/>
<path class="l" d="M727.8,889.6 Q732.8,898.6 730.3,907.6"/>
<ellipse class="w" style="stroke-width:3" cx="706" cy="913" rx="11" ry="18" transform="rotate(-25 706 913)"/>
<ellipse class="w" style="stroke-width:3" cx="701" cy="916" rx="10" ry="16" transform="rotate(-25 701 916)"/>
<path class="w" style="stroke-width:3" d="M692,902 L703,903 L709,912 L707,926 L697,934 L686,931 L681,921 L683,908 Z"/>
<path class="l" d="M692,902 L690,916 L697,934 M690,916 L681,921 M703,903 L700,915 L707,926 M700,915 L690,916"/>
</g>
<g class="n">
<text x="504" y="62">5</text>
<text x="570" y="56">7</text>
<text x="547.5" y="100">7</text>
<text x="714" y="100">4</text>
<text x="371" y="141">8</text>
<text x="409" y="167">11</text>
<text x="435" y="190">13</text>
<text x="472.5" y="226">5</text>
<text x="511" y="215.5">6</text>
<text x="707.5" y="169">20</text>
<text x="782" y="130">20</text>
<text x="1021" y="31">16</text>
<text x="876" y="116">3</text>
<text x="1129" y="146">17</text>
<text x="635" y="269">18</text>
<text x="479" y="342">18</text>
<text x="350.5" y="424">19</text>
<text x="634" y="481">14</text>
<text x="452.5" y="539.5">9</text>
<text x="1332.5" y="421">2</text>
<text x="1399" y="491">10</text>
<text x="1336" y="525">12</text>
<text x="1342.5" y="863">15</text>
<text x="695" y="880">12</text>
<text x="622.5" y="929">10</text>
</g>
<text transform="translate(1578,899.5) rotate(-1.8)" font-family="'Liberation Serif',serif" font-size="28.5" letter-spacing="1.2" fill="#000" stroke="#000" stroke-width="0.3">YB58<tspan font-size="22" dy="-1.5">—</tspan><tspan dy="1.5">E0300</tspan></text>
<text transform="translate(1729.5,90.5) rotate(-29)" font-family="'Liberation Sans',sans-serif" font-weight="bold" font-size="27.5" letter-spacing="1.6" fill="#000" stroke="#000" stroke-width="1.3">FR.</text>
<polygon class="k" points="1782.5,60 1770.5,40 1805.5,20 1803.5,13.5 1829,19.5 1822.5,46 1818.5,40"/>
</svg>
</body></html>
